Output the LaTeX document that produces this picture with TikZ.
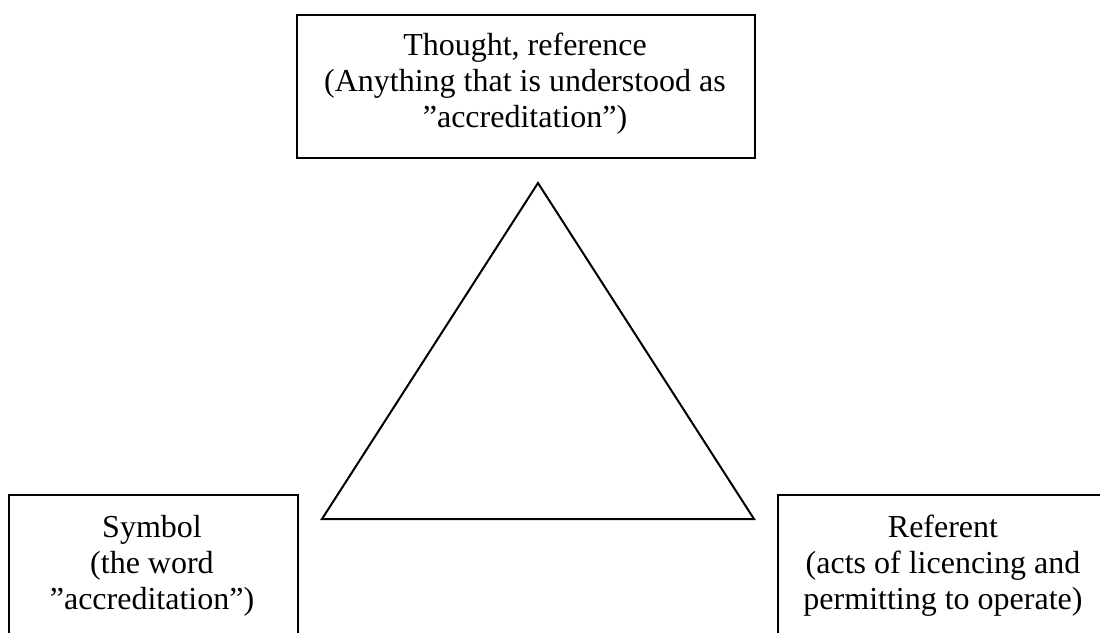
\documentclass[tikz,border=0pt]{standalone}
\usepackage{fontspec}
\setmainfont{Liberation Serif}
\usetikzlibrary{positioning}

\begin{document}
\begin{tikzpicture}[
  x=0.5pt, y=-0.5pt,
  font=\fontsize{16pt}{18pt}\selectfont,
  conceptbox/.style={draw=black, line width=1pt, inner sep=0pt},
  boxtext/.style={align=center, anchor=base, inner sep=0pt},
  edge/.style={line width=1pt, line join=miter}
]
  \useasboundingbox (0,0) rectangle (1100,633);
  \clip (0,0) rectangle (1100,633);
  \node[conceptbox, minimum width=229pt, minimum height=71.5pt] (thought) at (526,86.5) {};
  \node[conceptbox, minimum width=144.5pt, minimum height=100pt] (symbol) at (153.5,595) {};
  \node[conceptbox, minimum width=166pt, minimum height=100pt] (referent) at (944,595) {};
  % base anchor sits on the last line
  \node[boxtext] (thoughttext) at (525,127) {Thought, reference\\(Anything that is understood as\\''accreditation'')};
  \node[boxtext] (symboltext) at (152,609) {Symbol\\(the word\\''accreditation'')};
  \node[boxtext] (referenttext) at (943,609) {Referent\\(acts of licencing and\\permitting to operate)};
  % triangle between the three corners
  \coordinate (apex) at (538,183);
  \coordinate (baseleft) at (322,519);
  \coordinate (baseright) at (754,519);
  \draw[edge] (apex) -- (baseleft) -- (baseright) -- cycle;
\end{tikzpicture}
\end{document}
